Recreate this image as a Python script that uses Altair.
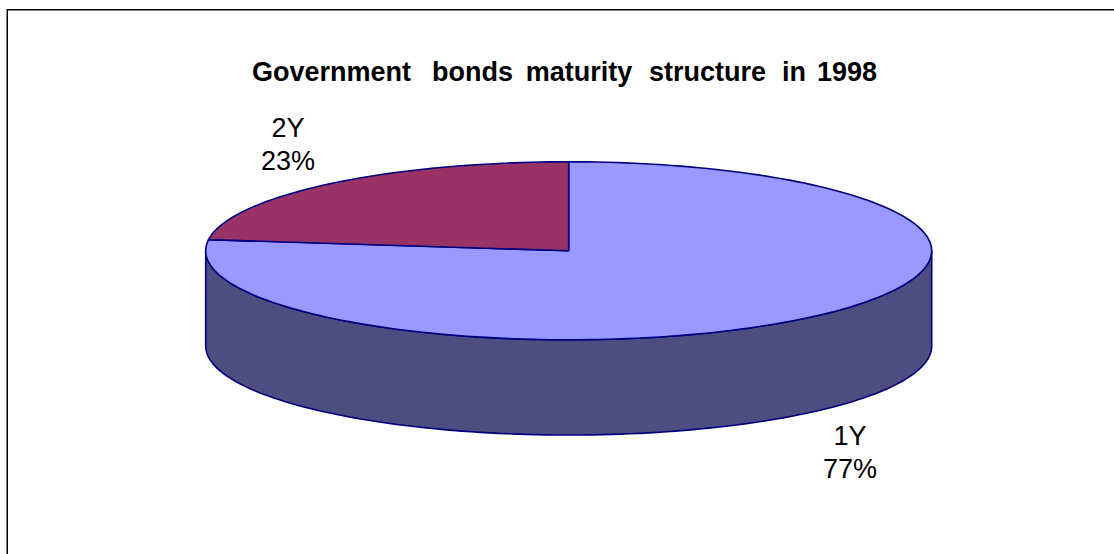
import numpy as np
import pandas as pd
import altair as alt

# Maturity shares, in percent
categories = ["1Y", "2Y"]
shares = [77, 23]
title_text = "Government bonds maturity structure in 1998"

TOP_COLOR = {"1Y": "#9999ff", "2Y": "#993366"}
SIDE_COLOR = "#4d4d80"
EDGE = "#000080"
DEPTH = 1.07  # wall height in units of the vertical semi-axis

W, H = 1114, 554
CX, CY, RX, RY = 568.7, 250.8, 363, 89
x_scale = alt.Scale(domain=[(0 - CX) / RX, (W - CX) / RX], range=[0, W], nice=False, zero=False)
y_scale = alt.Scale(domain=[(CY - H) / RY, CY / RY], range=[H, 0], nice=False, zero=False)


def ring(a0, a1, step=1.5):
    n = int(abs(a1 - a0) / step) + 2
    return np.radians(np.linspace(a0, a1, n))


def wedge_table(a0, a1):
    # clockwise sweep from the top of the disc, closed through the centre
    t = ring(a0, a1)
    u = np.concatenate([[0], np.sin(t), [0]])
    v = np.concatenate([[0], np.cos(t), [0]])
    return pd.DataFrame({"u": u, "v": v, "i": np.arange(len(u))})


def wall_table():
    # front wall of the cylinder, seen between the disc's two extreme points
    t = ring(90, 270)
    u = np.concatenate([np.sin(t), np.sin(t)[::-1], [np.sin(t)[0]]])
    v = np.concatenate([np.cos(t), np.cos(t)[::-1] - DEPTH, [np.cos(t)[0]]])
    return pd.DataFrame({"u": u, "v": v, "i": np.arange(len(u))})


def polygon(df, fill):
    return (
        alt.Chart(df)
        .mark_line(fill=fill, stroke=EDGE, strokeWidth=1.6, strokeJoin="round")
        .encode(
            x=alt.X("u:Q", scale=x_scale, axis=None),
            y=alt.Y("v:Q", scale=y_scale, axis=None),
            order="i:Q",
        )
    )


def label(text, x, y, size=27, weight="normal"):
    return (
        alt.Chart(pd.DataFrame({"t": [text]}))
        .mark_text(font="Liberation Sans", fontSize=size, fontWeight=weight, color="#000000",
                   align="center", baseline="alphabetic")
        .encode(text="t:N", x=alt.value(x), y=alt.value(y))
    )


frame = (
    alt.Chart(pd.DataFrame({"k": [0]}))
    .mark_rect(fill="#ffffff", stroke="#000000", strokeWidth=1.5)
    .encode(x=alt.value(7.25), x2=alt.value(W + 20), y=alt.value(9.75), y2=alt.value(H + 20))
)

# Slices run clockwise from twelve o'clock; 1Y first, then 2Y up to the top again
angles = np.cumsum([0] + [s / sum(shares) * 360 for s in shares])
slices = [
    polygon(wedge_table(angles[i], angles[i + 1]), TOP_COLOR[c])
    for i, c in enumerate(categories)
]

# The heading is widely tracked, so each word gets its own centre
word_centres = [331.5, 472.5, 579, 707.5, 794, 847]
heading = [
    label(w, x, 81, size=27, weight="bold")
    for w, x in zip(title_text.split(), word_centres)
]

pct = {c: f"{s}%" for c, s in zip(categories, shares)}
texts = [
    label("2Y", 288, 137),
    label(pct["2Y"], 288, 170),
    label("1Y", 850, 445),
    label(pct["1Y"], 850, 478),
]

chart = (
    alt.layer(frame, polygon(wall_table(), SIDE_COLOR), *slices, *heading, *texts)
    .properties(width=W, height=H, padding=0, autosize=alt.AutoSizeParams(type="none"))
    .configure_view(stroke=None)
)

chart.save("out.html", embed_options={"renderer": "svg", "actions": False})
